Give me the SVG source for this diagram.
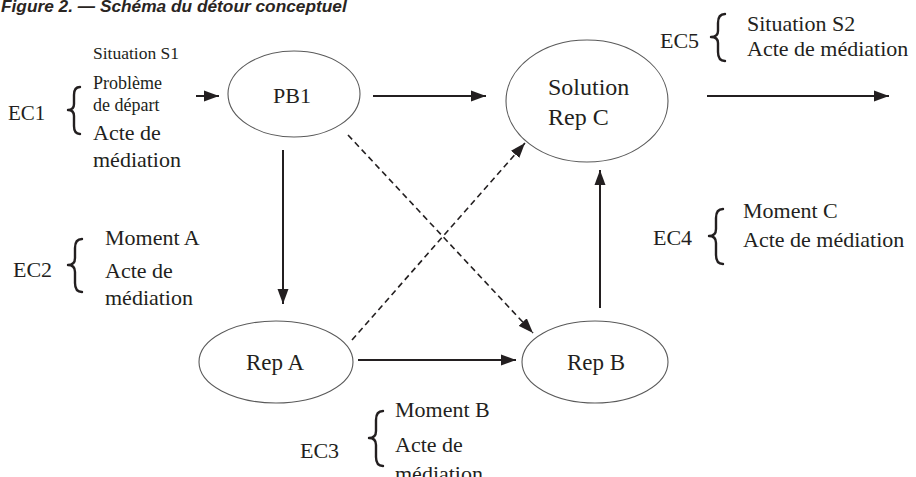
<svg xmlns="http://www.w3.org/2000/svg" width="916" height="477" viewBox="0 0 916 477">
  <style>
    .bg { fill: #ffffff; }
    .title { font-family: "Liberation Sans", Arial, sans-serif; font-weight: bold; font-style: italic; font-size: 17.3px; fill: #2a2522; }
    .t { font-family: "Liberation Serif", "Times New Roman", serif; fill: #231f20; }
    .node { fill: none; stroke: #5a5a5a; stroke-width: 1.1; }
    .brace { fill: none; stroke: #231f20; stroke-width: 2.4; stroke-linecap: round; stroke-linejoin: round; }
    .edge { fill: none; stroke: #231f20; stroke-width: 2; }
    .dash { fill: none; stroke: #231f20; stroke-width: 1.6; stroke-dasharray: 6 4; }
  </style>
  <defs>
    <marker id="head" markerUnits="userSpaceOnUse" markerWidth="16" markerHeight="12" refX="15" refY="6" orient="auto">
      <path d="M0,0.5 L15,6 L0,11.5 Z" fill="#231f20"/>
    </marker>
  </defs>

  <rect class="bg" x="0" y="0" width="916" height="477"/>

  <!-- caption -->
  <text class="title" x="1" y="12">Figure 2. — Schéma du détour conceptuel</text>

  <!-- nodes -->
  <g id="pb1">
    <ellipse class="node" cx="294" cy="94" rx="66" ry="43"/>
    <text class="t" x="292" y="103" font-size="22" text-anchor="middle">PB1</text>
  </g>
  <g id="solution-rep-c">
    <ellipse class="node" cx="587" cy="101" rx="81" ry="61"/>
    <text class="t" x="548" y="95" font-size="24">Solution</text>
    <text class="t" x="548" y="125" font-size="24">Rep C</text>
  </g>
  <g id="rep-a">
    <ellipse class="node" cx="276" cy="362" rx="77" ry="41"/>
    <text class="t" x="275" y="370" font-size="23" text-anchor="middle">Rep A</text>
  </g>
  <g id="rep-b">
    <ellipse class="node" cx="595" cy="362" rx="73" ry="41"/>
    <text class="t" x="596" y="370" font-size="23" text-anchor="middle">Rep B</text>
  </g>

  <!-- mediation annotations -->
  <g id="ec1">
    <text class="t" x="8" y="120" font-size="21">EC1</text>
    <path class="brace" d="M80,87 Q74,87 74,95 L74,104 Q74,110 68,110 Q74,110 74,116 L74,126 Q74,134 80,134"/>
    <text class="t" x="93" y="59" font-size="17.5">Situation S1</text>
    <text class="t" x="93" y="89" font-size="18">Problème</text>
    <text class="t" x="93" y="111" font-size="18">de départ</text>
    <text class="t" x="93" y="140" font-size="22">Acte de</text>
    <text class="t" x="93" y="167" font-size="22">médiation</text>
  </g>
  <g id="ec2">
    <text class="t" x="13" y="277" font-size="22">EC2</text>
    <path class="brace" d="M82,239 Q75,239 75,248 L75,258 Q75,265 68,265 Q75,265 75,272 L75,283 Q75,292 82,292"/>
    <text class="t" x="105" y="245" font-size="22">Moment A</text>
    <text class="t" x="105" y="278" font-size="22">Acte de</text>
    <text class="t" x="105" y="305" font-size="22">médiation</text>
  </g>
  <g id="ec3">
    <text class="t" x="300" y="458" font-size="22">EC3</text>
    <path class="brace" d="M383,411 Q376,411 376,420 L376,431 Q376,438 369,438 Q376,438 376,445 L376,457 Q376,466 383,466"/>
    <text class="t" x="395" y="417" font-size="22">Moment B</text>
    <text class="t" x="395" y="452" font-size="22">Acte de</text>
    <text class="t" x="395" y="481" font-size="22">médiation</text>
  </g>
  <g id="ec4">
    <text class="t" x="653" y="245" font-size="22">EC4</text>
    <path class="brace" d="M723,209 Q716,209 716,218 L716,229 Q716,236 709,236 Q716,236 716,243 L716,255 Q716,264 723,264"/>
    <text class="t" x="743" y="218" font-size="22">Moment C</text>
    <text class="t" x="743" y="247" font-size="22">Acte de médiation</text>
  </g>
  <g id="ec5">
    <text class="t" x="660" y="48" font-size="22">EC5</text>
    <path class="brace" d="M725,14 Q718,14 718,23 L718,31 Q718,37 711,37 Q718,37 718,43 L718,52 Q718,61 725,61"/>
    <text class="t" x="747" y="31" font-size="22">Situation S2</text>
    <text class="t" x="747" y="56" font-size="22">Acte de médiation</text>
  </g>

  <!-- connectors -->
  <g id="connectors">
    <line class="edge" x1="196" y1="96" x2="219" y2="96" marker-end="url(#head)"/>
    <line class="edge" x1="373" y1="96" x2="486" y2="96" marker-end="url(#head)"/>
    <line class="edge" x1="707" y1="96" x2="889" y2="96" marker-end="url(#head)"/>
    <line class="edge" x1="283" y1="150" x2="283" y2="304" marker-end="url(#head)"/>
    <line class="edge" x1="600" y1="308" x2="600" y2="170" marker-end="url(#head)"/>
    <line class="edge" x1="358" y1="360" x2="516" y2="360" marker-end="url(#head)"/>
    <line class="dash" x1="348" y1="135" x2="533" y2="333" marker-end="url(#head)"/>
    <line class="dash" x1="352" y1="340" x2="525" y2="143" marker-end="url(#head)"/>
  </g>
</svg>
